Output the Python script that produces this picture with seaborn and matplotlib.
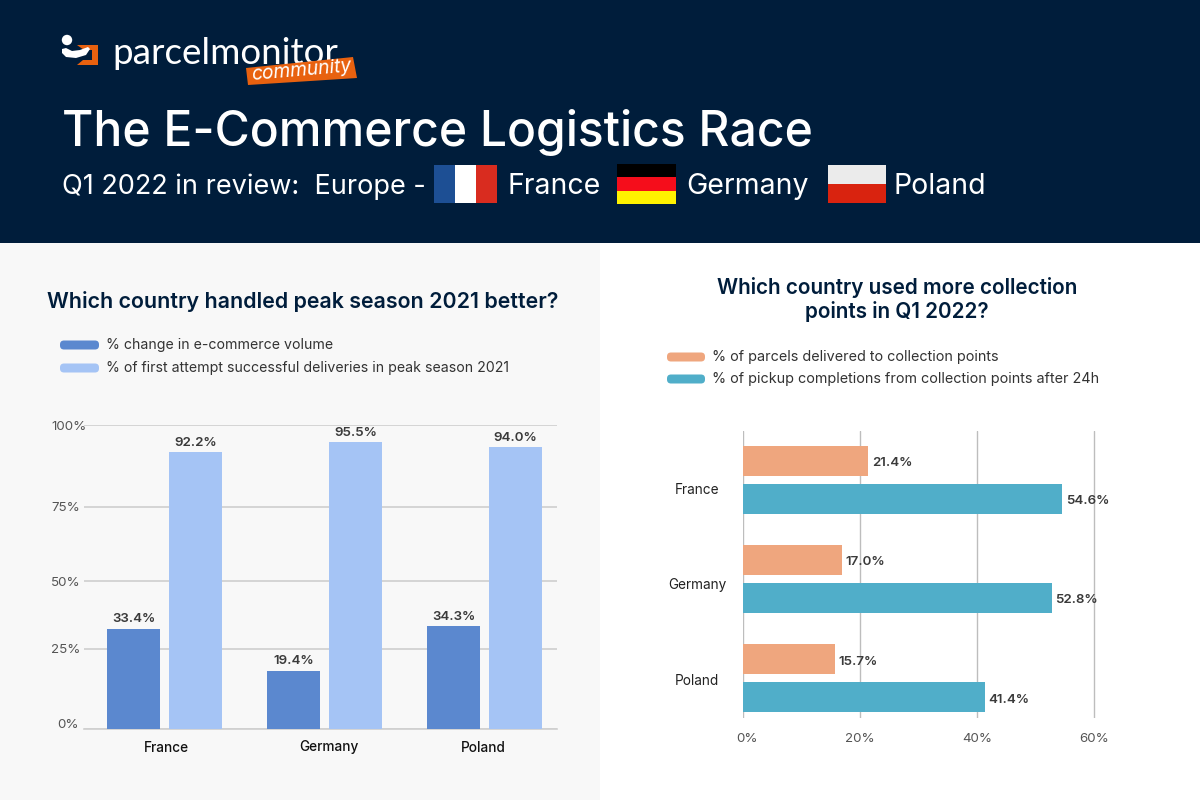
#!/usr/bin/env python3
"""E-commerce logistics race, Q1 2022: peak season and collection point charts."""

import matplotlib
matplotlib.use("Agg")
import matplotlib.pyplot as plt
from matplotlib.patches import Circle, FancyBboxPatch, Polygon, Rectangle
from matplotlib.transforms import ScaledTranslation
import pandas as pd
import seaborn as sns

# Data
countries = ["France", "Germany", "Poland"]
volume_change = [33.4, 19.4, 34.3]
first_attempt = [92.2, 95.5, 94.0]
collection_share = [21.4, 17.0, 15.7]
pickup_after_24h = [54.6, 52.8, 41.4]

left_series = ["% change in e-commerce volume",
               "% of first attempt successful deliveries in peak season 2021"]
right_series = ["% of parcels delivered to collection points",
                "% of pickup completions from collection points after 24h"]
left_tick_labels = ["0%", "25%", "50%", "75%", "100%"]
right_tick_values = [0, 20, 40, 60]

# Colours
NAVY = "#001D3B"
PANEL = "#F8F8F8"
DARK_BLUE = "#5B88CF"
LIGHT_BLUE = "#A5C4F5"
PEACH = "#EFA67E"
TEAL = "#50AEC9"
ORANGE = "#E8610F"
GRID = "#CFCFCF"
LABEL = "#3A3A3A"
TICK = "#555555"

sns.set_style("white")
plt.rcParams["font.family"] = ["Inter", "DejaVu Sans"]

W, H = 1200, 800
fig = plt.figure(figsize=(W / 100, H / 100), dpi=100, facecolor="white")


def px_axes(left, top, right, bottom, zorder=1):
    """Axes placed by pixel box, y measured from the top of the image."""
    ax = fig.add_axes([left / W, 1 - bottom / H, (right - left) / W, (bottom - top) / H], zorder=zorder)
    ax.patch.set_alpha(0)
    return ax


def shift(label, dx=0, dy=0):
    """Nudge a tick label by pixels."""
    label.set_transform(label.get_transform() + ScaledTranslation(dx / 100, -dy / 100, fig.dpi_scale_trans))


# Backdrop, header and decoration in pixel coordinates
bg = px_axes(0, 0, W, H, zorder=0)
bg.set_xlim(0, W)
bg.set_ylim(H, 0)
bg.axis("off")
bg.add_patch(Rectangle((0, 0), W, 243, color=NAVY, lw=0))
bg.add_patch(Rectangle((0, 243), 600, H - 243, color=PANEL, lw=0))

# Logo
bg.add_patch(Polygon([(77, 45), (98, 45), (98, 65), (77, 65), (83, 60), (92, 60), (92, 50), (84, 50)], color=ORANGE, lw=0))
bg.add_patch(Circle((67, 40), 5.2, color="white", lw=0))
bg.add_patch(Polygon([(62, 49), (66, 48), (72, 51), (80, 50), (88, 47), (90, 49), (86, 55), (76, 58), (66, 57), (62, 53)],
                     color="white", lw=0))
bg.text(112, 53, "parcelmonitor", color="white", fontsize=26.5, va="center", ha="left",
        family=["Lato", "DejaVu Sans"], zorder=1)
bg.add_patch(Polygon([(246, 68), (353, 57), (357, 78), (248, 85)], color=ORANGE, lw=0, zorder=2))
bg.text(301, 70.5, "community", color="white", fontsize=13.8, style="italic", rotation=5, va="center", ha="center",
        rotation_mode="anchor", zorder=3)

# Header text
bg.text(62, 132, "The E-Commerce Logistics Race", color="white", fontsize=34.6, weight="medium", va="center", ha="left")
bg.text(62, 187, "Q1 2022 in review:  Europe -", color="white", fontsize=19.5, va="center", ha="left")
for x, name in zip([508, 686, 894], countries):
    bg.text(x, 187, name, color="white", fontsize=20.5, va="center", ha="left")

# Flags
for x0, colour in zip([434, 455, 476], ["#1D4F94", "white", "#D92C1F"]):
    bg.add_patch(Rectangle((x0, 165), 21, 38, color=colour, lw=0))
for y0, colour in zip([164, 177, 190.5], ["black", "#F50D1B", "#FFF200"]):
    bg.add_patch(Rectangle((617, y0), 59, 13.5, color=colour, lw=0))
bg.add_patch(Rectangle((828, 165), 58, 19, color="#EBEBEB", lw=0))
bg.add_patch(Rectangle((828, 184), 58, 19, color="#D9230F", lw=0))

# Chart titles
bg.text(303, 301, "Which country handled peak season 2021 better?", color=NAVY, fontsize=15.4, weight="semibold",
        va="center", ha="center")
bg.text(897, 288, "Which country used more collection", color=NAVY, fontsize=14.9, weight="semibold", va="center", ha="center")
bg.text(897, 312, "points in Q1 2022?", color=NAVY, fontsize=14.9, weight="semibold", va="center", ha="center")

# Legends
for (x0, x1, tx), ys, names, colours, size in [
    ((60, 99, 106), (345, 368), left_series, (DARK_BLUE, LIGHT_BLUE), 10.2),
    ((667, 705, 712), (357, 379), right_series, (PEACH, TEAL), 10.35),
]:
    for y, name, colour in zip(ys, names, colours):
        bg.add_patch(FancyBboxPatch((x0 + 4, y - 0.5), x1 - x0 - 8, 1, boxstyle="round,pad=4", color=colour, lw=0))
        bg.text(tx, y, name, color="#333333", fontsize=size, va="center", ha="left")

# Left chart: grouped columns
left_df = pd.DataFrame({
    "country": countries * 2,
    "series": [left_series[0]] * 3 + [left_series[1]] * 3,
    "value": volume_change + first_attempt,
})
ax1 = px_axes(84, 425, 557, 729)
sns.barplot(data=left_df, x="country", y="value", hue="series", palette=[DARK_BLUE, LIGHT_BLUE],
            width=0.775, gap=0.16, legend=False, saturation=1, linewidth=0, ax=ax1, zorder=3)
ax1.set_xlim(-0.503, 2.453)
ax1.set_ylim(0, 101.33)
ax1.set_xlabel("")
ax1.set_ylabel("")
# the source gridlines are not evenly spaced, keep them where it drew them
ax1.set_yticks([0, 26.7, 49.3, 74, 101.33], left_tick_labels)
ax1.set_xticks([0.01, 1.03, 1.99], countries)
ax1.grid(axis="y", color=GRID, lw=1.2, zorder=0)
ax1.set_axisbelow(True)
for side in ["top", "left", "right"]:
    ax1.spines[side].set_visible(False)
ax1.spines["bottom"].set_color(GRID)
ax1.spines["bottom"].set_linewidth(1.2)
ax1.tick_params(axis="x", length=0, pad=9, labelsize=9.8, labelcolor="#111111")
ax1.tick_params(axis="y", length=0, pad=23.5, labelsize=9.6, labelcolor=TICK)
for label in ax1.get_yticklabels():
    label.set_ha("left")
shift(ax1.get_yticklabels()[0], dx=6, dy=-6)
for label in ax1.get_xticklabels():
    label.set_weight("medium")
shift(ax1.get_xticklabels()[1], dy=-1)
for container in ax1.containers:
    ax1.bar_label(container, fmt="%.1f%%", padding=2.5, fontsize=9.6, weight="semibold", color=LABEL)

# Right chart: grouped bars
right_df = pd.DataFrame({
    "country": countries * 2,
    "series": [right_series[0]] * 3 + [right_series[1]] * 3,
    "value": collection_share + pickup_after_24h,
})
ax2 = px_axes(743, 431, 1096, 718)
sns.barplot(data=right_df, y="country", x="value", hue="series", palette=[PEACH, TEAL], orient="h",
            width=0.764, gap=0.21, legend=False, saturation=1, linewidth=0, ax=ax2, zorder=3)
# a little room past 60 so the last gridline is not clipped
ax2.set_xlim(0, 60.34)
ax2.set_ylim(2.398, -0.49)
ax2.set_xlabel("")
ax2.set_ylabel("")
ax2.set_xticks(right_tick_values, [f"{v}%" for v in right_tick_values])
ax2.set_yticks([0.09, 1.04, 2.015], countries)
ax2.grid(axis="x", color="#BDBDBD", lw=1.0, zorder=0)
ax2.set_axisbelow(True)
sns.despine(ax=ax2, left=True, bottom=True)
ax2.tick_params(axis="x", length=0, pad=11, labelsize=9.6, labelcolor=TICK)
ax2.tick_params(axis="y", length=0, pad=33, labelsize=9.8, labelcolor="#222222")
for label in ax2.get_yticklabels():
    label.set_ha("center")
shift(ax2.get_xticklabels()[0], dx=4)
for container in ax2.containers:
    for text in ax2.bar_label(container, fmt="%.1f%%", padding=2.5, fontsize=9.6, weight="semibold", color=LABEL):
        # sit the labels slightly below the bar centre, as in the source
        text.xyann = (text.xyann[0], text.xyann[1] - 1.5)

fig.savefig("out.png", dpi=100, facecolor=fig.get_facecolor())
